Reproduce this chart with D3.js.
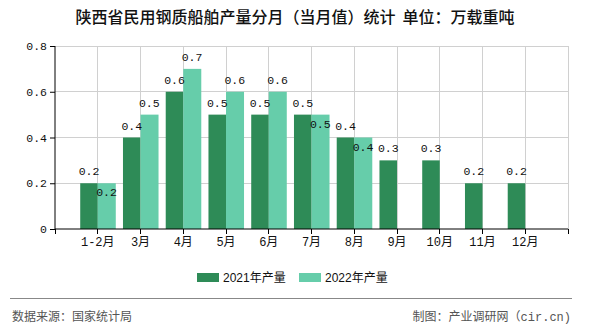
<!DOCTYPE html>
<html><head><meta charset="utf-8">
<script src="https://cdn.jsdelivr.net/npm/d3@7/dist/d3.min.js"></script>
<style>
body{margin:0;background:#fff;}
svg{display:block;}
</style></head>
<body>
<script>
const categories = ["1-2月","3月","4月","5月","6月","7月","8月","9月","10月","11月","12月"];
const values2021 = [0.2,0.4,0.6,0.5,0.5,0.5,0.4,0.3,0.3,0.2,0.2];
const values2022 = [0.2,0.5,0.7,0.6,0.6,0.5,0.4,null,null,null,null];
const seriesNames = ["2021年产量","2022年产量"];
const yTicks = [0,0.2,0.4,0.6,0.8];
const titleText = "陕西省民用钢质船舶产量分月（当月值）统计  单位：万载重吨";
const sourceText = "数据来源：国家统计局";
const makerText = "制图：产业调研网（cir.cn)";

const W=590,H=330;
const colors=["#2E8B57","#66CDAA"];
const monoFont="'Liberation Mono','Noto Sans CJK SC',monospace";
const cjkFont="'Noto Sans CJK SC','SimSun',sans-serif";
const svg=d3.select("body").append("svg").attr("width",W).attr("height",H);

const x0=55,x1=568,y0=229,y1=46;
const step=(x1-x0)/12;
const x=d3.scalePoint().domain(categories).range([x0+step,x1-step]);
const y=d3.scaleLinear().domain([0,0.8]).range([y0,y1]);
const bw=step*0.41;

// title
svg.append("text").attr("x",295).attr("y",23).attr("text-anchor","middle")
  .attr("font-family",cjkFont).attr("font-size",16).attr("font-weight",500).attr("fill","#111")
  .attr("xml:space","preserve").text(titleText);

// grid
const g=svg.append("g");
g.selectAll(".hg").data(yTicks.filter(d=>d>0)).enter().append("line")
  .attr("x1",x0).attr("x2",x1).attr("y1",d=>y(d)).attr("y2",d=>y(d))
  .attr("stroke","#d0d0d0").attr("stroke-width",1).attr("shape-rendering","crispEdges");
g.selectAll(".vg").data(categories.map(c=>x(c)).concat([x1])).enter().append("line")
  .attr("x1",d=>d).attr("x2",d=>d).attr("y1",y1).attr("y2",y0)
  .attr("stroke","#d0d0d0").attr("stroke-width",1).attr("shape-rendering","crispEdges");

// bars
const bars=svg.append("g");
categories.forEach((c,i)=>{
  const v1=values2021[i], v2=values2022[i];
  if(v1!=null){
    bars.append("rect").attr("x",x(c)-bw).attr("y",y(v1)).attr("width",bw).attr("height",y0-y(v1)).attr("fill",colors[0]);
  }
  if(v2!=null){
    bars.append("rect").attr("x",x(c)).attr("y",y(v2)).attr("width",bw+0.5).attr("height",y0-y(v2)).attr("fill",colors[1]);
  }
});
// labels
const lab=svg.append("g").attr("font-family",monoFont).attr("font-size",11.5).attr("fill","#111").attr("text-anchor","middle");
categories.forEach((c,i)=>{
  const v1=values2021[i], v2=values2022[i];
  if(v1!=null){
    lab.append("text").attr("x",x(c)-bw/2).attr("y",y(v1)-12).attr("dy","0.35em").text(d3.format(".1f")(v1));
  }
  if(v2!=null){
    const inside = v1!=null && v1===v2;
    lab.append("text").attr("x",x(c)+bw/2).attr("y",inside? y(v2)+9 : y(v2)-12).attr("dy","0.35em").text(d3.format(".1f")(v2));
  }
});

// axes
const yAxis=d3.axisLeft(y).tickValues(yTicks).tickSize(5).tickPadding(3).tickFormat(d=>d===0?"0":d3.format(".1f")(d));
const ya=svg.append("g").attr("transform",`translate(${x0},0)`).call(yAxis);
ya.selectAll("text").attr("font-family",monoFont).attr("font-size",11.5).attr("fill","#111");
ya.selectAll("line,path").attr("stroke","#000");
ya.select(".domain").attr("d",`M0,${y1}V${y0}`);

const xa=svg.append("g").attr("transform",`translate(0,${y0})`);
xa.append("line").attr("x1",x0).attr("x2",x1).attr("y1",0).attr("y2",0).attr("stroke","#000");
xa.selectAll(".tk").data([x0].concat(categories.map(c=>x(c))).concat([x1])).enter().append("line")
  .attr("x1",d=>d).attr("x2",d=>d).attr("y1",0).attr("y2",5).attr("stroke","#000").attr("shape-rendering","crispEdges");
xa.selectAll(".tl").data(categories).enter().append("text")
  .attr("x",d=>x(d)).attr("y",17).attr("text-anchor","middle")
  .attr("font-family",monoFont).attr("font-size",12).attr("fill","#111").text(d=>d);

// legend
const leg=svg.append("g");
const legX=[197,299];
seriesNames.forEach((n,i)=>{
  leg.append("rect").attr("x",legX[i]).attr("y",273).attr("width",22).attr("height",9).attr("fill",colors[i]);
  leg.append("text").attr("x",legX[i]+26).attr("y",277.5).attr("dy","0.35em")
    .attr("font-family","'Liberation Sans','Noto Sans CJK SC',sans-serif").attr("font-size",12).attr("fill","#111").text(n);
});

// footer
svg.append("line").attr("x1",10).attr("x2",572).attr("y1",298.5).attr("y2",298.5).attr("stroke","#888").attr("stroke-width",1.2);
svg.append("text").attr("x",12).attr("y",317).attr("dy","0.35em").attr("font-family",cjkFont).attr("font-size",12).attr("fill","#555").text(sourceText);
svg.append("text").attr("x",571).attr("y",317).attr("dy","0.35em").attr("text-anchor","end").attr("font-family",monoFont).attr("font-size",12).attr("fill","#555").text(makerText);
</script>
</body></html>
